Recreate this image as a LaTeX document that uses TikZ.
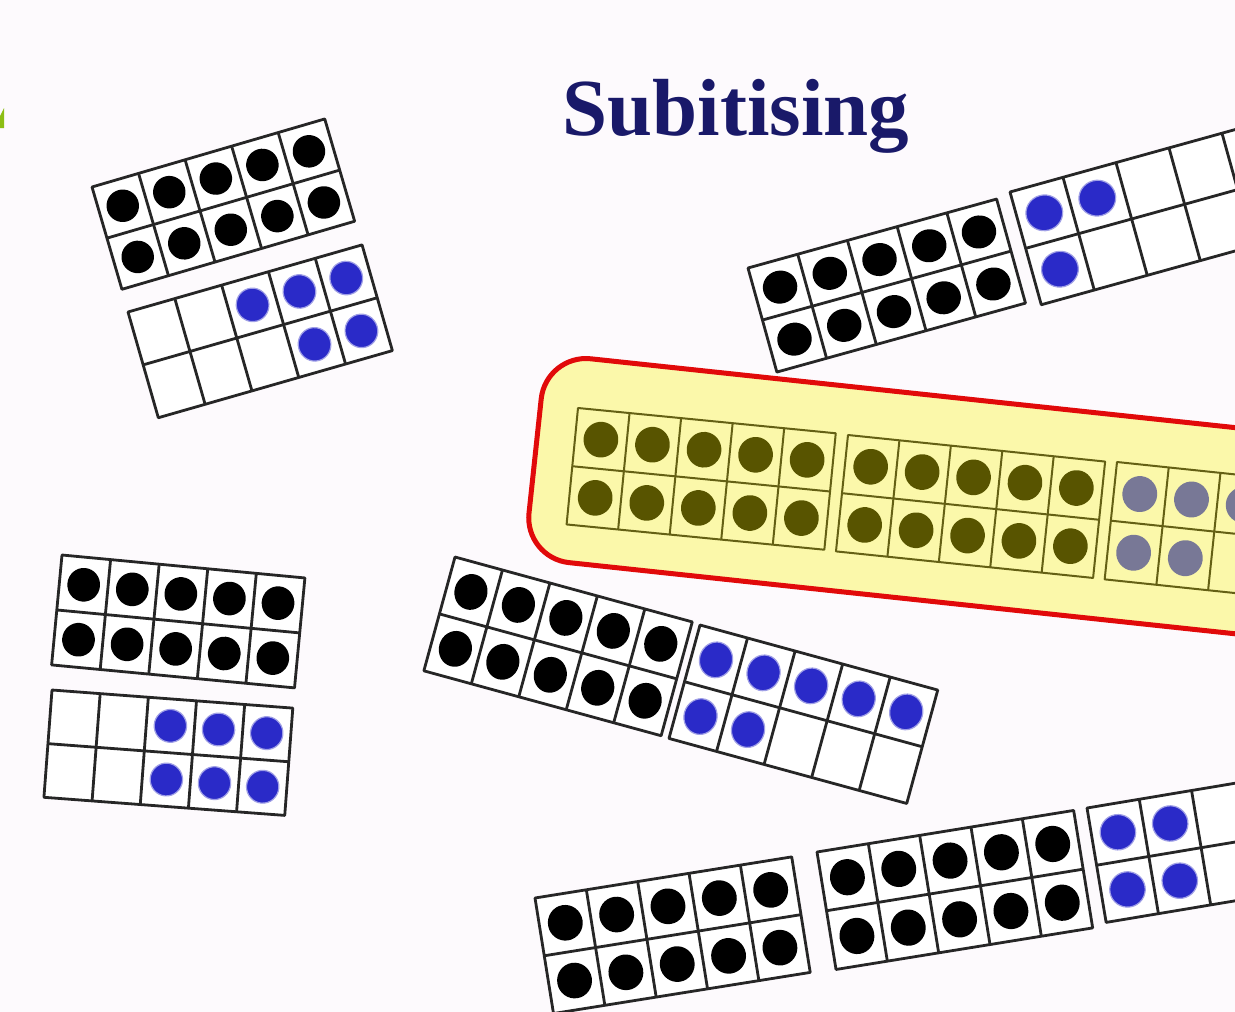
\documentclass[tikz,border=0pt]{standalone}
\usepackage{fontspec}
\setmainfont{Liberation Serif}
\definecolor{bg}{RGB}{253,250,253}
\definecolor{dotblue}{RGB}{42,42,200}
\definecolor{olivedot}{RGB}{88,84,0}
\definecolor{olivelin}{RGB}{100,96,20}
\definecolor{greydot}{RGB}{120,120,150}
\definecolor{boxyellow}{RGB}{251,248,170}
\definecolor{boxred}{RGB}{225,10,10}
\definecolor{navy}{RGB}{25,25,105}
\definecolor{leafgreen}{RGB}{140,190,20}
\tikzset{
 fr/.style={draw=black!85, line width=2.8pt, line join=round},
 olfr/.style={draw=olivelin, line width=2pt, line join=round},
 bk/.style={fill=black},
 bl/.style={fill=dotblue, draw=dotblue!45, line width=1.2pt},
 ol/.style={fill=olivedot},
 gr/.style={fill=greydot},
 cellwhite/.style={fill=white},
 cellnone/.style={fill=none},
 hilite/.style={draw=boxred, line width=5pt, fill=boxyellow, rounded corners=45pt},
}
% #1 x, #2 y, #3 angle, #4 cell width, #5 cell height, #6 line style, #7 cell fill, #8 dots c/r/style
\newcommand{\tenfr}[8]{%
\begin{scope}[shift={(#1,#2)}, rotate=#3]
 \path[#7] (0,0) rectangle (5*#4,2*#5);
 \foreach \dc/\dr/\ds in {#8} \path[\ds] ({(\dc+0.5)*#4},{(\dr+0.5)*#5}) ellipse [x radius={0.335*#4}, y radius={0.305*#5}];
 \draw[#6] (0,0) rectangle (5*#4,2*#5);
 \draw[#6] (0,#5) -- (5*#4,#5);
 \foreach \k in {1,2,3,4} \draw[#6] ({\k*#4},0) -- ({\k*#4},2*#5);
\end{scope}}
\begin{document}
\begin{tikzpicture}[x=1pt,y=-1pt]
\useasboundingbox (0,0) rectangle (1235,1012);
\fill[bg] (0,0) rectangle (1235,1012);
\clip (0,0) rectangle (1235,1012);
\fill[leafgreen] (0,116) -- (4,108) -- (4,128) -- (0,128) -- cycle;
\node[font=\fontsize{81}{96}\selectfont\bfseries, text=navy, anchor=base, inner sep=0pt] (title) at (736,135) {Subitising};
% top-left group
\tenfr{92}{187}{16.3}{48.5}{53.3}{fr}{cellwhite}{0/0/bk,1/0/bk,2/0/bk,3/0/bk,4/0/bk,0/1/bk,1/1/bk,2/1/bk,3/1/bk,4/1/bk}
\tenfr{128}{312}{16}{48.7}{55}{fr}{cellwhite}{2/0/bl,3/0/bl,4/0/bl,3/1/bl,4/1/bl}
% highlighted group
\begin{scope}[shift={(546,354)}, rotate=-6.1]
 \path[hilite] (0,0) rectangle (900,205);
\end{scope}
\tenfr{578}{408}{-5.6}{51.8}{58.5}{olfr}{cellnone}{0/0/ol,1/0/ol,2/0/ol,3/0/ol,4/0/ol,0/1/ol,1/1/ol,2/1/ol,3/1/ol,4/1/ol}
\tenfr{848}{435}{-5.9}{51.7}{58.5}{olfr}{cellnone}{0/0/ol,1/0/ol,2/0/ol,3/0/ol,4/0/ol,0/1/ol,1/1/ol,2/1/ol,3/1/ol,4/1/ol}
\tenfr{1117}{462}{-6}{52}{59}{olfr}{cellnone}{0/0/gr,1/0/gr,2/0/gr,0/1/gr,1/1/gr}
% top-right group
\tenfr{748}{268}{15.5}{51.6}{54}{fr}{cellwhite}{0/0/bk,1/0/bk,2/0/bk,3/0/bk,4/0/bk,0/1/bk,1/1/bk,2/1/bk,3/1/bk,4/1/bk}
\tenfr{1010}{192}{15.5}{55}{58.5}{fr}{cellwhite}{0/0/bl,1/0/bl,0/1/bl}
% middle group
\tenfr{455}{557}{-15.3}{49.2}{59}{fr}{cellwhite}{0/0/bk,1/0/bk,2/0/bk,3/0/bk,4/0/bk,0/1/bk,1/1/bk,2/1/bk,3/1/bk,4/1/bk}
\tenfr{700}{625}{-15.3}{49.3}{58.8}{fr}{cellwhite}{0/0/bl,1/0/bl,2/0/bl,3/0/bl,4/0/bl,0/1/bl,1/1/bl}
% bottom-left group
\tenfr{62}{555}{-5.4}{48.8}{55.2}{fr}{cellwhite}{0/0/bk,1/0/bk,2/0/bk,3/0/bk,4/0/bk,0/1/bk,1/1/bk,2/1/bk,3/1/bk,4/1/bk}
\tenfr{52}{690}{-4.3}{48.3}{53.8}{fr}{cellwhite}{2/0/bl,3/0/bl,4/0/bl,2/1/bl,3/1/bl,4/1/bl}
% bottom group
\tenfr{535}{898}{9.1}{52}{58.5}{fr}{cellwhite}{0/0/bk,1/0/bk,2/0/bk,3/0/bk,4/0/bk,0/1/bk,1/1/bk,2/1/bk,3/1/bk,4/1/bk}
\tenfr{817}{852}{9.2}{52}{59.5}{fr}{cellwhite}{0/0/bk,1/0/bk,2/0/bk,3/0/bk,4/0/bk,0/1/bk,1/1/bk,2/1/bk,3/1/bk,4/1/bk}
\tenfr{1087}{808}{9.5}{53}{58}{fr}{cellwhite}{0/0/bl,1/0/bl,0/1/bl,1/1/bl}
\end{tikzpicture}
\end{document}
